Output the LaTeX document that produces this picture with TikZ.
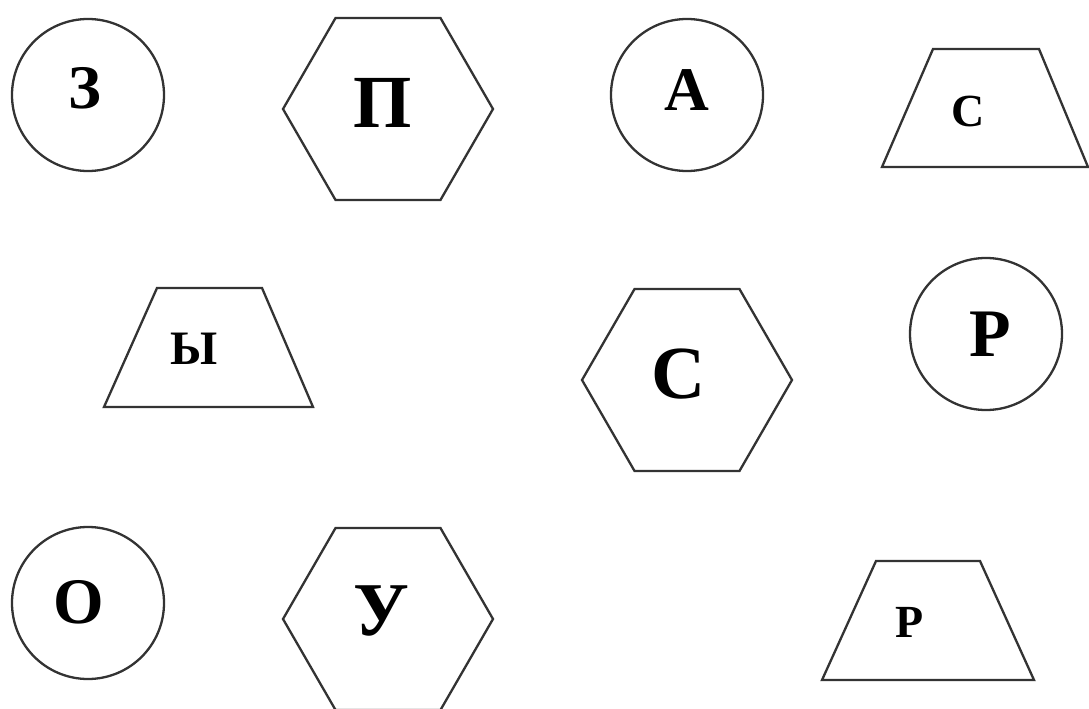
\documentclass[tikz,border=0pt]{standalone}
\usepackage{fontspec}
\setmainfont{Liberation Serif}
\usetikzlibrary{shapes.geometric}
\begin{document}
\begin{tikzpicture}[x=1pt,y=-1pt,
  shapeline/.style={draw=black!80, line width=2.3pt},
  ring/.style={shapeline, circle, minimum size=152pt, inner sep=0pt},
  hexa/.style={shapeline, regular polygon, regular polygon sides=6, minimum size=210pt, inner sep=0pt},
  letter/.style={font=\bfseries\fontsize{#1}{#1}\selectfont, inner sep=0pt, text=black},
]
\useasboundingbox (0,0) rectangle (1089,709);
\fill[white] (0,0) rectangle (1089,709);
% row 1
\node[ring] (cz) at (88,95) {};
\node[letter=62] (tz) at (85,88) {З};
\node[hexa] (hp) at (388,109) {};
\node[letter=75] (tp) at (383,103) {П};
\node[ring] (ca) at (687,95) {};
\node[letter=62] (ta) at (687,90) {А};
\draw[shapeline] (933,49) -- (1039,49) -- (1088,167) -- (882,167) -- cycle;
\node[letter=46] (ts1) at (968,111) {С};
% row 2
\draw[shapeline] (157,288) -- (262,288) -- (313,407) -- (104,407) -- cycle;
\node[letter=48] (ty) at (194,349) {Ы};
\node[hexa] (hs) at (687,380) {};
\node[letter=75] (ts2) at (679,374) {С};
\node[ring] (cr) at (986,334) {};
\node[letter=68] (tr1) at (990,334) {Р};
% row 3
\node[ring] (co) at (88,603) {};
\node[letter=65] (to) at (79,602) {О};
\node[hexa] (hu) at (388,619) {};
\node[letter=76] (tu) at (381,611) {У};
\draw[shapeline] (876,561) -- (980,561) -- (1034,680) -- (822,680) -- cycle;
\node[letter=46] (tr2) at (910,622) {Р};
\end{tikzpicture}
\end{document}
